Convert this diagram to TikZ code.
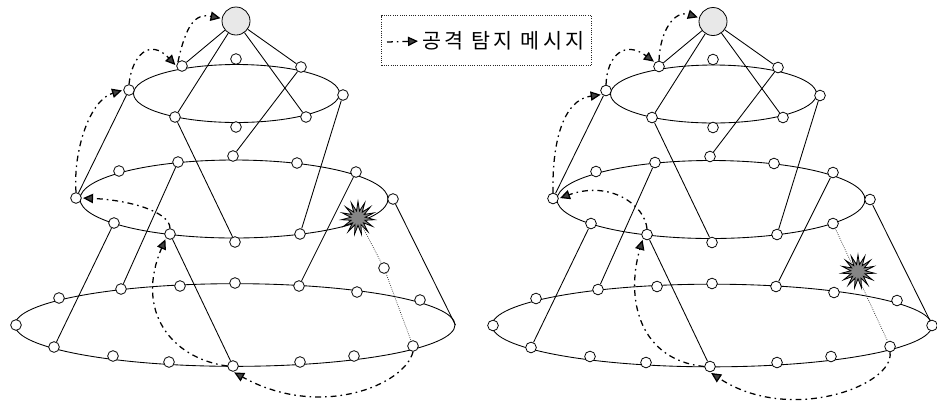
\documentclass[tikz,border=0pt]{standalone}
\usepackage{fontspec}
\newfontfamily\krfont[LetterSpace=16]{Noto Sans CJK KR}
\usetikzlibrary{arrows.meta,shapes.geometric}
\tikzset{
  peer/.style={circle,draw=black,fill=white,line width=0.6pt,minimum size=8pt,inner sep=0pt},
  rootpeer/.style={circle,draw=black,fill=black!9,line width=0.6pt,minimum size=21pt,inner sep=0pt},
  ring/.style={ellipse,draw=black,line width=0.65pt,inner sep=0pt},
  link/.style={draw=black,line width=0.65pt},
  thinlink/.style={draw=black!80,line width=0.55pt,densely dotted},
  attack/.style={draw=black,line width=0.95pt,dash pattern=on 4.4pt off 3pt on 1.2pt off 3pt,
    -{Triangle[length=7.5pt,width=7pt,fill=black!75]},shorten >=1pt},
  burst/.style={star,star points=15,star point ratio=2.3,draw=black,fill=black!48,line width=0.6pt,minimum size=25pt,inner sep=0pt},
  legendbox/.style={draw=black!85,line width=0.7pt,densely dotted,minimum width=157.5pt,minimum height=37.5pt,inner sep=0pt}
}
\newcommand{\ringnet}{
  \node[ring,minimum width=154.5pt,minimum height=43.5pt] (ra) at (236.5,93.5) {};
  \node[ring,minimum width=231pt,minimum height=58.5pt] (rb) at (234,199) {};
  \node[ring,minimum width=330pt,minimum height=62pt] (rc) at (235,325) {};
  \foreach \n/\x/\y in {a1/182/66,a2/236/59,a3/301/67,a4/343/95,a5/306/117,a6/236/127,a7/175/117,a8/129/90,
    b1/76/198,b2/119/171,b3/178/162,b4/233/156,b5/297/163,b6/356/172,b7/393/199,b9/300/234,b10/235/242,b11/170/234,b12/114/223,
    c1/16/325,c2/59/298,c3/121/289,c4/180/286,c5/235/283,c6/299/286,c7/357/292,c8/420/300,
    c10/413/346,c11/354/356,c12/300/362,c13/233/366,c14/169/362,c15/113/356,c16/54/347}
    {\node[peer] (\n) at (\x,\y) {};}
  \node[rootpeer] (top) at (236,21) {};
  \draw[link] (top) -- (a1);
  \draw[link] (top) -- (a3);
  \draw[link] (top) -- (a7);
  \draw[link] (top) -- (a5);
  \draw[link] (a3) -- (b4);
  \draw[link] (a8) -- (b1);
  \draw[link] (a7) -- (b10);
  \draw[link] (a4) -- (b9);
  \draw[link] (b3) -- (c3);
  \draw[link] (b6) -- (c6);
  \draw[link] (b12) -- (c16);
  \draw[link] (b11) -- (c13);
  \draw[link] (b7) -- (rc.east);
}
\begin{document}
\begin{tikzpicture}[x=0.75pt,y=-0.75pt]
\useasboundingbox (0,0) rectangle (937,405);
% left network
\begin{scope}[name prefix=L-]
  \ringnet
  \node[peer] (iso) at (384,268) {};
  \node[burst] (hit) at (358,218) {};
  \draw[thinlink] (hit) -- (iso);
  \draw[thinlink] (iso) -- (c10);
\end{scope}
% right network
\begin{scope}[name prefix=R-,shift={(477,0.5)}]
  \ringnet
  \node[peer] (b8) at (356,223) {};
  \node[peer] (c9) at (455,325) {};
  \draw[thinlink] (b8) -- (c10);
  \node[burst] (hit) at (381,271) {};
\end{scope}
% attack arrows, left
\draw[attack] (L-a1.north west) .. controls (186,25) and (195,13) .. (L-top.170);
\draw[attack] (L-a8.north) .. controls (132,55) and (150,38) .. (L-a1.west);
\draw[attack] (L-b1.north) .. controls (73,150) and (90,100) .. (L-a8.west);
\draw[attack] (L-b11.north) .. controls (170,212) and (130,200) .. (L-b1.east);
\draw[attack] (L-c13.west) .. controls (170,358) and (135,310) .. (L-b11.south west);
\draw[attack] (L-c10.south) .. controls (405,385) and (320,420) .. (L-c13.south);
% attack arrows, right
\draw[attack] (R-a1.north) .. controls (660,30) and (675,10) .. (R-top.165);
\draw[attack] (R-a8.north) .. controls (607,55) and (625,40) .. (R-a1.north west);
\draw[attack] (R-b1.north) .. controls (552,145) and (562,100) .. (R-a8.south west);
\draw[attack] (R-b11.north) .. controls (645,205) and (610,180) .. (R-b1.east);
\draw[attack] (R-c13.west) .. controls (640,360) and (625,300) .. (R-b11.south west);
\draw[attack] (R-c10.south) .. controls (895,385) and (790,425) .. (R-c13.south);
% legend
\node[legendbox] (legend) at (486.5,40.5) {};
\coordinate (legA) at (387,42);
\node[anchor=west,inner sep=0pt,font=\krfont\fontsize{15.5pt}{17pt}\selectfont] (legT) at (422,41) {공격 탐지 메시지};
\draw[attack,shorten >=3pt] (legA) -- (legT.west);
\end{tikzpicture}
\end{document}
